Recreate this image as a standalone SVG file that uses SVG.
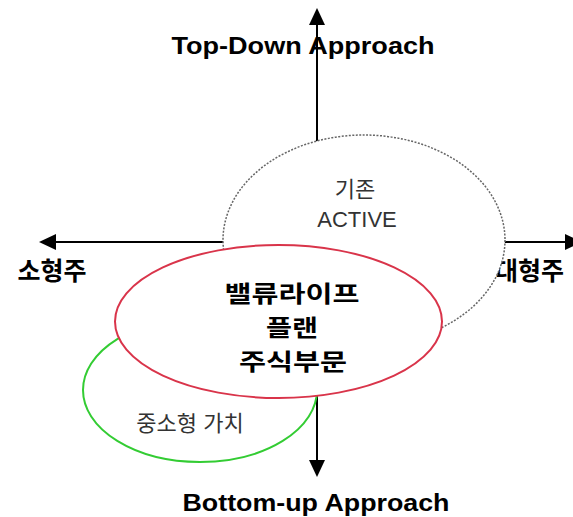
<svg xmlns="http://www.w3.org/2000/svg" width="573" height="517" viewBox="0 0 573 517">
<defs>
<marker id="ah" markerUnits="userSpaceOnUse" markerWidth="18" markerHeight="16" viewBox="0 0 18 16" refX="1" refY="8" orient="auto">
<path d="M0,0 L17,8 L0,16 Z" fill="#000"/>
</marker>
<style>
.axis{stroke:#000;stroke-width:2;fill:none}
.lbl{font-family:"Liberation Sans","Noto Sans CJK KR",sans-serif;font-weight:bold;font-size:24px;fill:#000}
.kb{font-family:"Noto Sans CJK KR",sans-serif;font-weight:bold;font-size:25px;fill:#000}
.kc{font-family:"Noto Sans CJK KR",sans-serif;font-weight:bold;font-size:23px;fill:#000}
.kn{font-family:"Liberation Sans","Noto Sans CJK KR",sans-serif;font-size:22px;fill:#333}
</style>
</defs>
<rect width="573" height="517" fill="#fff"/>
<g id="connectors">
<line class="axis" x1="317" y1="330" x2="317" y2="24" marker-end="url(#ah)"/>
<line class="axis" x1="317" y1="330" x2="317" y2="461" marker-end="url(#ah)"/>
<line class="axis" x1="317" y1="242" x2="55" y2="242" marker-end="url(#ah)"/>
<line class="axis" x1="317" y1="242" x2="566" y2="242" marker-end="url(#ah)"/>
</g>
<g id="labels">
<text class="lbl" x="303" y="54" text-anchor="middle" textLength="263" lengthAdjust="spacingAndGlyphs">Top-Down Approach</text>
<text class="lbl" x="316" y="511" text-anchor="middle" textLength="267" lengthAdjust="spacingAndGlyphs">Bottom-up Approach</text>
<text class="kb" x="52" y="280" text-anchor="middle">소형주</text>
<text class="kb" x="495" y="280">대형주</text>
</g>
<g id="active">
<ellipse cx="364" cy="240" rx="141" ry="105" fill="#fff" stroke="#666" stroke-width="1.5" stroke-dasharray="2 1.5"/>
<text class="kn" x="355" y="197" text-anchor="middle">기존</text>
<text class="kn" x="357" y="227" text-anchor="middle">ACTIVE</text>
</g>
<g id="smallmid">
<ellipse cx="200" cy="390" rx="117" ry="72" fill="#fff" stroke="#3c3" stroke-width="2"/>
<text class="kn" x="190" y="431" text-anchor="middle">중소형 가치</text>
</g>
<g id="valuelife">
<ellipse cx="278.5" cy="321.5" rx="163.5" ry="76.5" fill="#fff" stroke="#d9344a" stroke-width="2"/>
<text class="kc" x="292" y="302" text-anchor="middle" textLength="135" lengthAdjust="spacingAndGlyphs">밸류라이프</text>
<text class="kc" x="292" y="336" text-anchor="middle" textLength="52" lengthAdjust="spacingAndGlyphs">플랜</text>
<text class="kc" x="293" y="370" text-anchor="middle" textLength="108" lengthAdjust="spacingAndGlyphs">주식부문</text>
</g>
</svg>
